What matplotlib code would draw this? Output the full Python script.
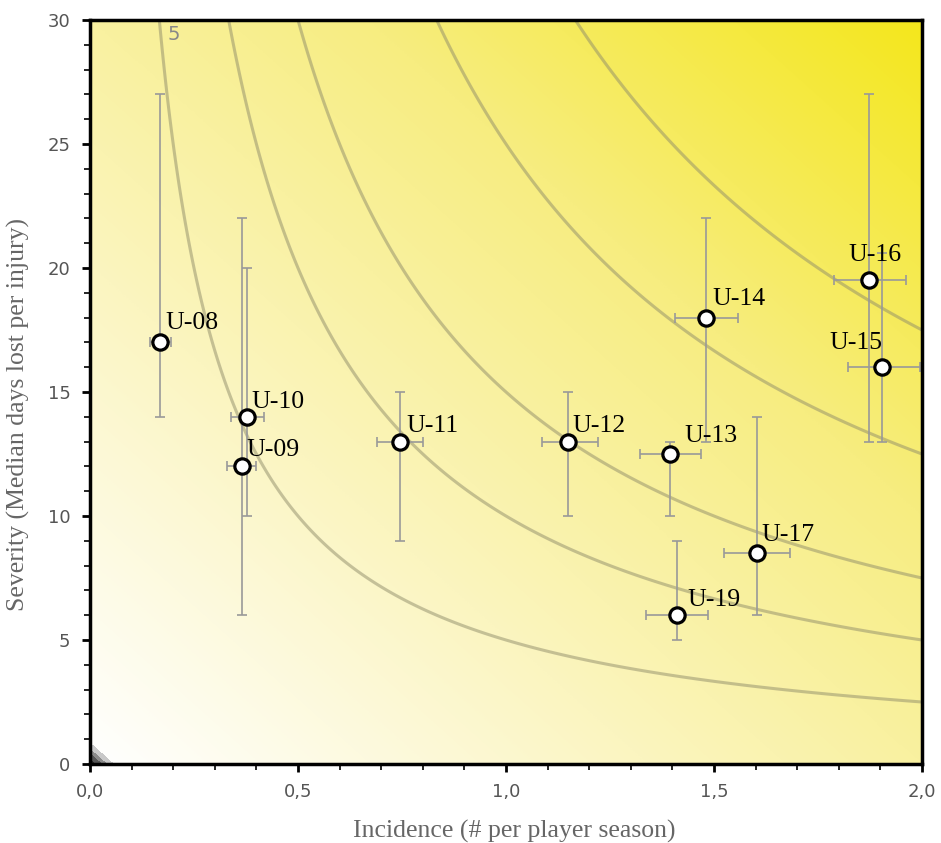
import numpy as np
import matplotlib
matplotlib.use("Agg")
import matplotlib.pyplot as plt
from matplotlib.colors import LinearSegmentedColormap

# ---- data ----
labels = ["U-08", "U-09", "U-10", "U-11", "U-12", "U-13", "U-14", "U-15", "U-16", "U-17", "U-19"]
incidence = [0.168, 0.365, 0.377, 0.745, 1.15, 1.395, 1.48, 1.905, 1.873, 1.603, 1.41]
severity = [17, 12, 14, 13, 13, 12.5, 18, 16, 19.5, 8.5, 6]
inc_low = [0.145, 0.33, 0.34, 0.69, 1.087, 1.322, 1.406, 1.822, 1.788, 1.524, 1.337]
inc_high = [0.195, 0.40, 0.418, 0.80, 1.221, 1.469, 1.557, 1.995, 1.962, 1.683, 1.486]
sev_low = [14, 6, 10, 9, 10, 10, 13, 13, 13, 6, 5]
sev_high = [27, 22, 20, 15, 15, 13, 22, 20.6, 27, 14, 9]
# label offsets in pixels (dx, dy to baseline) and horizontal alignment
label_dx = [6, 5, 5, 6, 4, 14, 7, 0, 6, 5, 11]
label_dy = [13, 10, 9, 10, 10, 12, 13, 18, 19, 12, 9]
label_ha = ["left", "left", "left", "left", "left", "left", "left", "right", "center", "left", "left"]
risk_levels = [5, 10, 15, 25, 35]

W, H = 941, 843
fig = plt.figure(figsize=(W / 100, H / 100), dpi=100)
ax = fig.add_axes([90 / W, 1 - 764 / H, (922 - 90) / W, (764 - 20) / H])

xmax, ymax = 2.0, 30.0
gx = np.linspace(0, xmax, 500)
gy = np.linspace(0, ymax, 500)
GX, GY = np.meshgrid(gx, gy)
T = (GX / xmax + GY / ymax) / 2.0
cmap_bg = LinearSegmentedColormap.from_list("bg", ["#ffffff", "#fbf5c0", "#f7ed80", "#f4e71c"], N=256)
ax.imshow(T, extent=[0, xmax, 0, ymax], origin="lower", aspect="auto", cmap=cmap_bg,
          vmin=0, vmax=1, interpolation="bilinear", zorder=0)
ax.contourf(GX, GY, T, levels=[0, 0.004, 0.008, 0.011, 0.014],
            colors=["#2a2a2a", "#555555", "#8a8a8a", "#c8c8c8"], zorder=0.5)

P = GX * GY
ax.contour(GX, GY, P, levels=risk_levels, colors="#8f8c6a", linewidths=2.2, alpha=0.5, zorder=1)
ax.text(0.202, 29.4, "5", color="#888888", fontsize=14, ha="center", va="center", zorder=1)

xerr = [np.array(incidence) - np.array(inc_low), np.array(inc_high) - np.array(incidence)]
yerr = [np.array(severity) - np.array(sev_low), np.array(sev_high) - np.array(severity)]
ax.errorbar(incidence, severity, xerr=xerr, yerr=yerr, fmt="none", ecolor="#999999",
            elinewidth=1.2, capsize=3.3, capthick=1.2, zorder=2)
ax.plot(incidence, severity, "o", ms=11, mfc="white", mec="black", mew=2.3, zorder=3, clip_on=False)

for lab, x, y, dx, dy, ha in zip(labels, incidence, severity, label_dx, label_dy, label_ha):
    ax.annotate(lab, (x, y), xytext=(dx * 0.72, dy * 0.72), textcoords="offset points", ha=ha,
                va="baseline", fontsize=18.5, family="Liberation Serif", color="black", zorder=4)

ax.set_xlim(0, xmax)
ax.set_ylim(0, ymax)
ax.set_xticks([0, 0.5, 1.0, 1.5, 2.0])
ax.set_xticklabels(["0,0", "0,5", "1,0", "1,5", "2,0"])
ax.set_xticks(np.arange(0, 2.01, 0.1), minor=True)
ax.set_yticks([0, 5, 10, 15, 20, 25, 30])
ax.set_yticks(np.arange(0, 31, 1), minor=True)
ax.tick_params(which="major", direction="out", length=6, width=2, colors="black",
               labelcolor="#555555", labelsize=13, pad=8)
ax.tick_params(which="minor", direction="out", length=4, width=1.2, colors="black")
for s in ax.spines.values():
    s.set_linewidth(2.5)
    s.set_color("black")

ax.set_xlabel("Incidence (# per player season)", family="Liberation Serif", fontsize=18.5,
              color="#666666", labelpad=12)
ax.xaxis.set_label_coords(0.51, -0.075)
ax.set_ylabel("Severity (Median days lost per injury)", family="Liberation Serif", fontsize=18.5,
              color="#666666", labelpad=12)
ax.yaxis.set_label_coords(-0.072, 0.47)

fig.savefig("out.png", dpi=100)
